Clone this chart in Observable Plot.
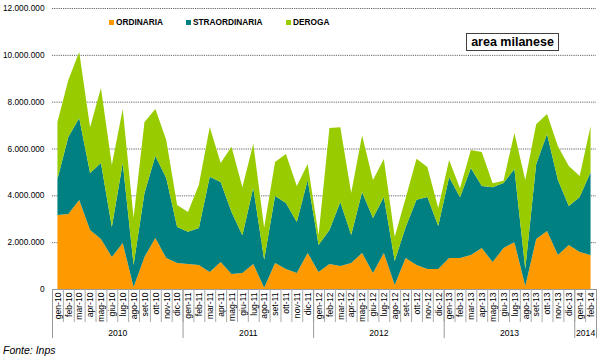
<!DOCTYPE html>
<html><head><meta charset="utf-8">
<script src="https://cdn.jsdelivr.net/npm/d3@7"></script>
<script src="https://cdn.jsdelivr.net/npm/@observablehq/plot@0.6"></script>
<style>
body{margin:0;background:#fff;}
#wrap{position:relative;width:600px;height:358px;font-family:"Liberation Sans",Arial,sans-serif;color:#000;}
#wrap svg{position:absolute;left:0;top:0;}
.leg{position:absolute;top:17px;font-size:8.3px;font-weight:bold;line-height:11px;white-space:nowrap;}
.leg i{display:inline-block;width:5px;height:5px;margin-right:2px;vertical-align:0px;}
#title{position:absolute;left:466px;top:33px;width:91px;height:16px;border:1px solid #404040;background:#fff;font-size:12.5px;font-weight:bold;line-height:16px;text-align:center;}
#caption{position:absolute;left:3px;top:344px;font-size:10.5px;font-style:italic;line-height:13px;}
</style></head><body><div id="wrap"></div>
<script>
const months = ["gen-10","feb-10","mar-10","apr-10","mag-10","giu-10","lug-10","ago-10","set-10","ott-10","nov-10","dic-10",
"gen-11","feb-11","mar-11","apr-11","mag-11","giu-11","lug-11","ago-11","set-11","ott-11","nov-11","dic-11",
"gen-12","feb-12","mar-12","apr-12","mag-12","giu-12","lug-12","ago-12","set-12","ott-12","nov-12","dic-12",
"gen-13","feb-13","mar-13","apr-13","mag-13","giu-13","lug-13","ago-13","set-13","ott-13","nov-13","dic-13",
"gen-14","feb-14"];
const ordinaria = [3160000,3200000,3800000,2520000,2130000,1370000,1960000,90000,1370000,2180000,1320000,1110000,
1070000,1030000,730000,1150000,640000,680000,1070000,50000,1110000,850000,680000,1540000,
730000,1070000,980000,1110000,1540000,680000,1540000,170000,1320000,1030000,850000,850000,
1320000,1320000,1450000,1750000,1150000,1750000,2000000,130000,2130000,2480000,1450000,1880000,
1580000,1450000];
const straordinaria = [1540000,3290000,3500000,2430000,3250000,1280000,3420000,940000,2730000,3500000,3420000,1540000,
1370000,1580000,4060000,3420000,2650000,1620000,3250000,1200000,2860000,2820000,2180000,3120000,
1150000,1450000,2730000,1200000,2600000,2350000,2390000,1030000,1320000,2780000,3080000,1840000,
3460000,2600000,3720000,2650000,3200000,2780000,3120000,730000,3200000,4140000,3200000,1660000,
2350000,3540000];
const deroga = [2430000,2430000,2820000,1960000,3200000,2650000,2310000,2010000,3030000,2010000,1620000,940000,
850000,1840000,2130000,810000,2780000,2050000,1880000,1370000,1450000,2090000,1540000,680000,
430000,4360000,3200000,1790000,2430000,1620000,1620000,1030000,1240000,1750000,1280000,770000,
730000,380000,770000,1450000,170000,90000,1540000,3800000,1710000,850000,1450000,1710000,
900000,1960000];
const seriesNames = ["ORDINARIA","STRAORDINARIA","DEROGA"];
const seriesColors = ["#FF9900","#008080","#99CC00"];
const yTicks = [0,2000000,4000000,6000000,8000000,10000000,12000000];
const titleText = "area milanese";
const captionText = "Fonte: Inps";

const seriesValues = [ordinaria, straordinaria, deroga];
const data = seriesNames.flatMap((s,k) => months.map((m,i) => ({i, month:m, series:s, value:seriesValues[k][i]})));

// year groups from month labels
const yearOf = m => "20" + m.slice(-2);
const groups = [];
months.forEach((m,i) => {
  const y = yearOf(m);
  if (!groups.length || groups[groups.length-1].year !== y) groups.push({year:y, start:i, end:i});
  else groups[groups.length-1].end = i;
});
const yearBounds = [groups[0].start - 0.5, ...groups.map(g => g.end + 0.5)];
const yearCenters = groups.map(g => (g.start + g.end) / 2);
const yearLabel = new Map(groups.map(g => [(g.start + g.end) / 2, g.year]));
const monthBounds = d3.range(months.length + 1).map(i => i - 0.5);

const it = d3.formatLocale({decimal:",", thousands:".", grouping:[3], currency:["€",""]});
const fmt = it.format(",.0f");

const chart = Plot.plot({
  width: 600, height: 358,
  marginLeft: 52, marginRight: 4, marginTop: 8, marginBottom: 69,
  style: {fontFamily: "'Liberation Sans', Arial, sans-serif", fontSize: "8.6px", color: "#000", background: "transparent"},
  x: {type: "linear", domain: [-0.5, months.length - 0.5], axis: null, label: null},
  y: {domain: [0, 12000000], axis: null, label: null},
  color: {domain: seriesNames, range: seriesColors},
  marks: [
    Plot.gridY(yTicks.filter(d => d > 0), {stroke: "#666", strokeOpacity: 1, strokeDasharray: "1.2,1"}),
    Plot.areaY(data, {x: "i", y: "value", fill: "series", curve: "linear"}),
    Plot.ruleY([0], {stroke: "#999"}),
    Plot.axisY(yTicks, {tickSize: 0, tickPadding: 8, tickFormat: fmt, fontSize: 8.3}),
    Plot.axisX(monthBounds, {tickSize: 33, tickFormat: () => "", stroke: "#aaa"}),
    Plot.axisX(yearBounds, {tickSize: 49, tickFormat: () => "", stroke: "#999"}),
    Plot.axisX(months.map((_, i) => i), {tickSize: 0, tickPadding: 3, tickRotate: -90, tickFormat: i => months[i], fontSize: 8.6}),
    Plot.axisX(yearCenters, {tickSize: 0, tickPadding: 40, tickFormat: c => yearLabel.get(c), fontSize: 8.6})
  ]
});

const wrap = document.getElementById("wrap");
wrap.appendChild(chart);

const legPos = [109, 186, 286];
seriesNames.forEach((s, k) => {
  const d = document.createElement("div");
  d.className = "leg";
  d.style.left = legPos[k] + "px";
  d.innerHTML = `<i style="background:${seriesColors[k]}"></i>${s}`;
  wrap.appendChild(d);
});
const t = document.createElement("div"); t.id = "title"; t.textContent = titleText; wrap.appendChild(t);
const c = document.createElement("div"); c.id = "caption"; c.textContent = captionText; wrap.appendChild(c);
</script>
</body></html>
